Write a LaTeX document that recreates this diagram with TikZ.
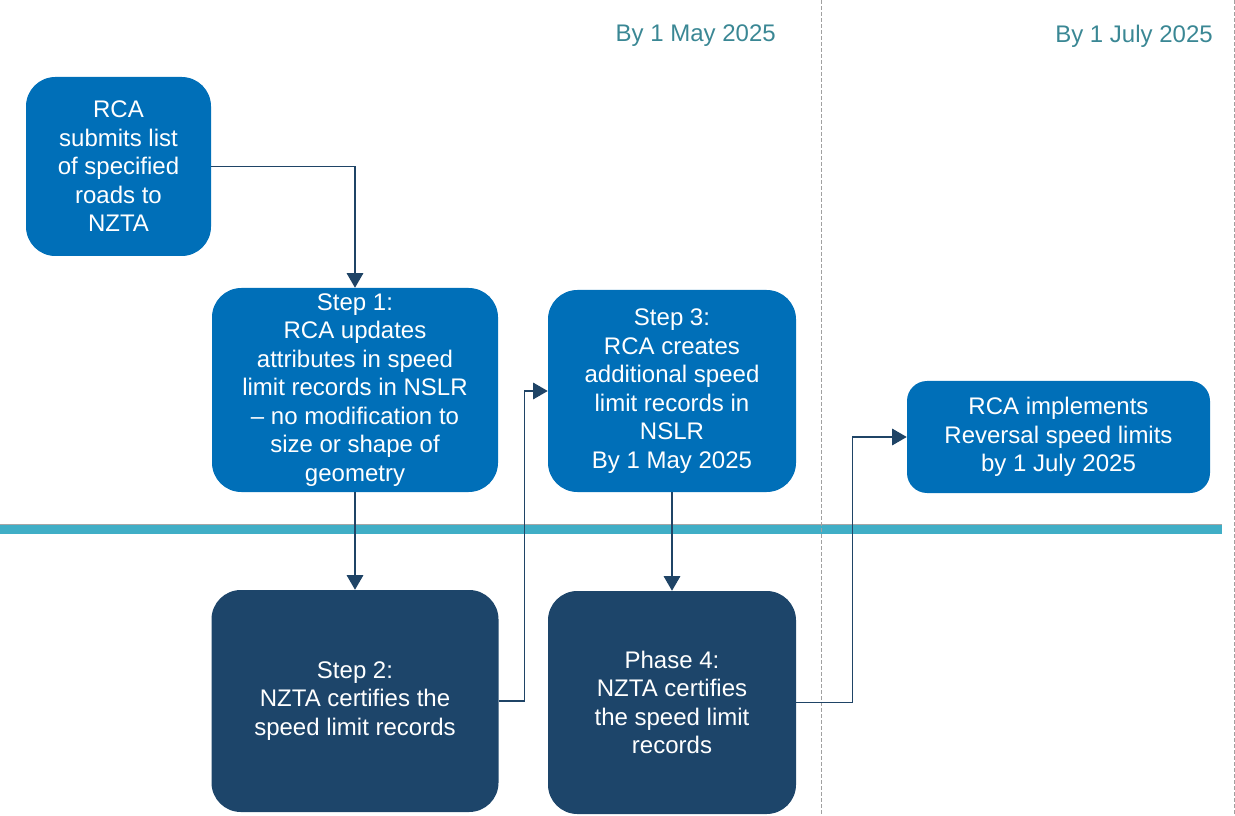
\documentclass[tikz,border=0pt]{standalone}
\usepackage{fontspec}
\setmainfont{Liberation Sans}
\usetikzlibrary{arrows.meta}
\definecolor{boxblue}{RGB}{0,111,184}
\definecolor{boxnavy}{RGB}{29,69,106}
\definecolor{linknavy}{RGB}{31,68,102}
\definecolor{headteal}{RGB}{58,135,148}
\definecolor{barteal}{RGB}{64,174,198}
\definecolor{dashgray}{RGB}{160,160,160}
\begin{document}
\begin{tikzpicture}
        [x=0.75pt, y=-0.75pt,
         box_style/.style={rectangle,rounded corners=22pt,align=center,text=white,inner sep=0pt,
                           font=\fontsize{18}{21.4}\selectfont},
         box_blue/.style={box_style,fill=boxblue},
         box_navy/.style={box_style,fill=boxnavy},
         head_style/.style={anchor=east,inner sep=0pt,text=headteal,font=\fontsize{18}{21.6}\selectfont},
         divider_style/.style={draw=dashgray,line width=0.75pt,dash pattern=on 3pt off 1.5pt},
         edge_style/.style={draw=linknavy,line width=0.9pt,-{Triangle[length=11pt,width=12.5pt]}}]
            \useasboundingbox (0,0) rectangle (1235,816);
            % band between RCA and NZTA rows
            \fill[barteal] (0,525) rectangle (1222,534);
            \draw[gray!70,line width=0.75pt] (0,524.5) -- (1222,524.5);
            \draw[divider_style] (821,0) -- (821,816);
            \draw[divider_style] (1234,0) -- (1234,816);
            \node[head_style] (may) at (776,36) {By 1 May 2025};
            \node[head_style] (july) at (1213,36) {By 1 July 2025};
            \node[box_blue,minimum width=138.75pt,minimum height=134.25pt] (submit) at (118.5,166.5)
                {RCA\\submits list\\of specified\\roads to\\NZTA};
            \node[box_blue,minimum width=214.5pt,minimum height=153pt] (step1) at (355,390)
                {Step 1:\\RCA updates\\attributes in speed\\limit records in NSLR\\-- no modification to\\size or shape of\\geometry};
            \node[box_blue,minimum width=186pt,minimum height=151.5pt] (step3) at (672,391)
                {Step 3:\\RCA creates\\additional speed\\limit records in\\NSLR\\By 1 May 2025};
            \node[box_blue,rounded corners=15pt,minimum width=227.25pt,minimum height=84pt] (impl) at (1058.5,437)
                {RCA implements\\Reversal speed limits\\by 1 July 2025};
            \node[box_navy,minimum width=215.25pt,minimum height=166.5pt] (step2) at (355,701)
                {Step 2:\\NZTA certifies the\\speed limit records};
            \node[box_navy,minimum width=186pt,minimum height=167.25pt] (phase4) at (672,702.5)
                {Phase 4:\\NZTA certifies\\the speed limit\\records};
            \draw[edge_style]  (submit.east) -| (step1.north);
            \draw[edge_style]  (step1.south) -- (step2.north);
            \draw[edge_style]  (step2.east) -- ++(26,0) |- (step3.west);
            \draw[edge_style]  (step3.south) -- (phase4.north);
            \draw[edge_style]  (phase4.east) -- ++(56,0) |- (impl.west);
        \end{tikzpicture}
\end{document}
